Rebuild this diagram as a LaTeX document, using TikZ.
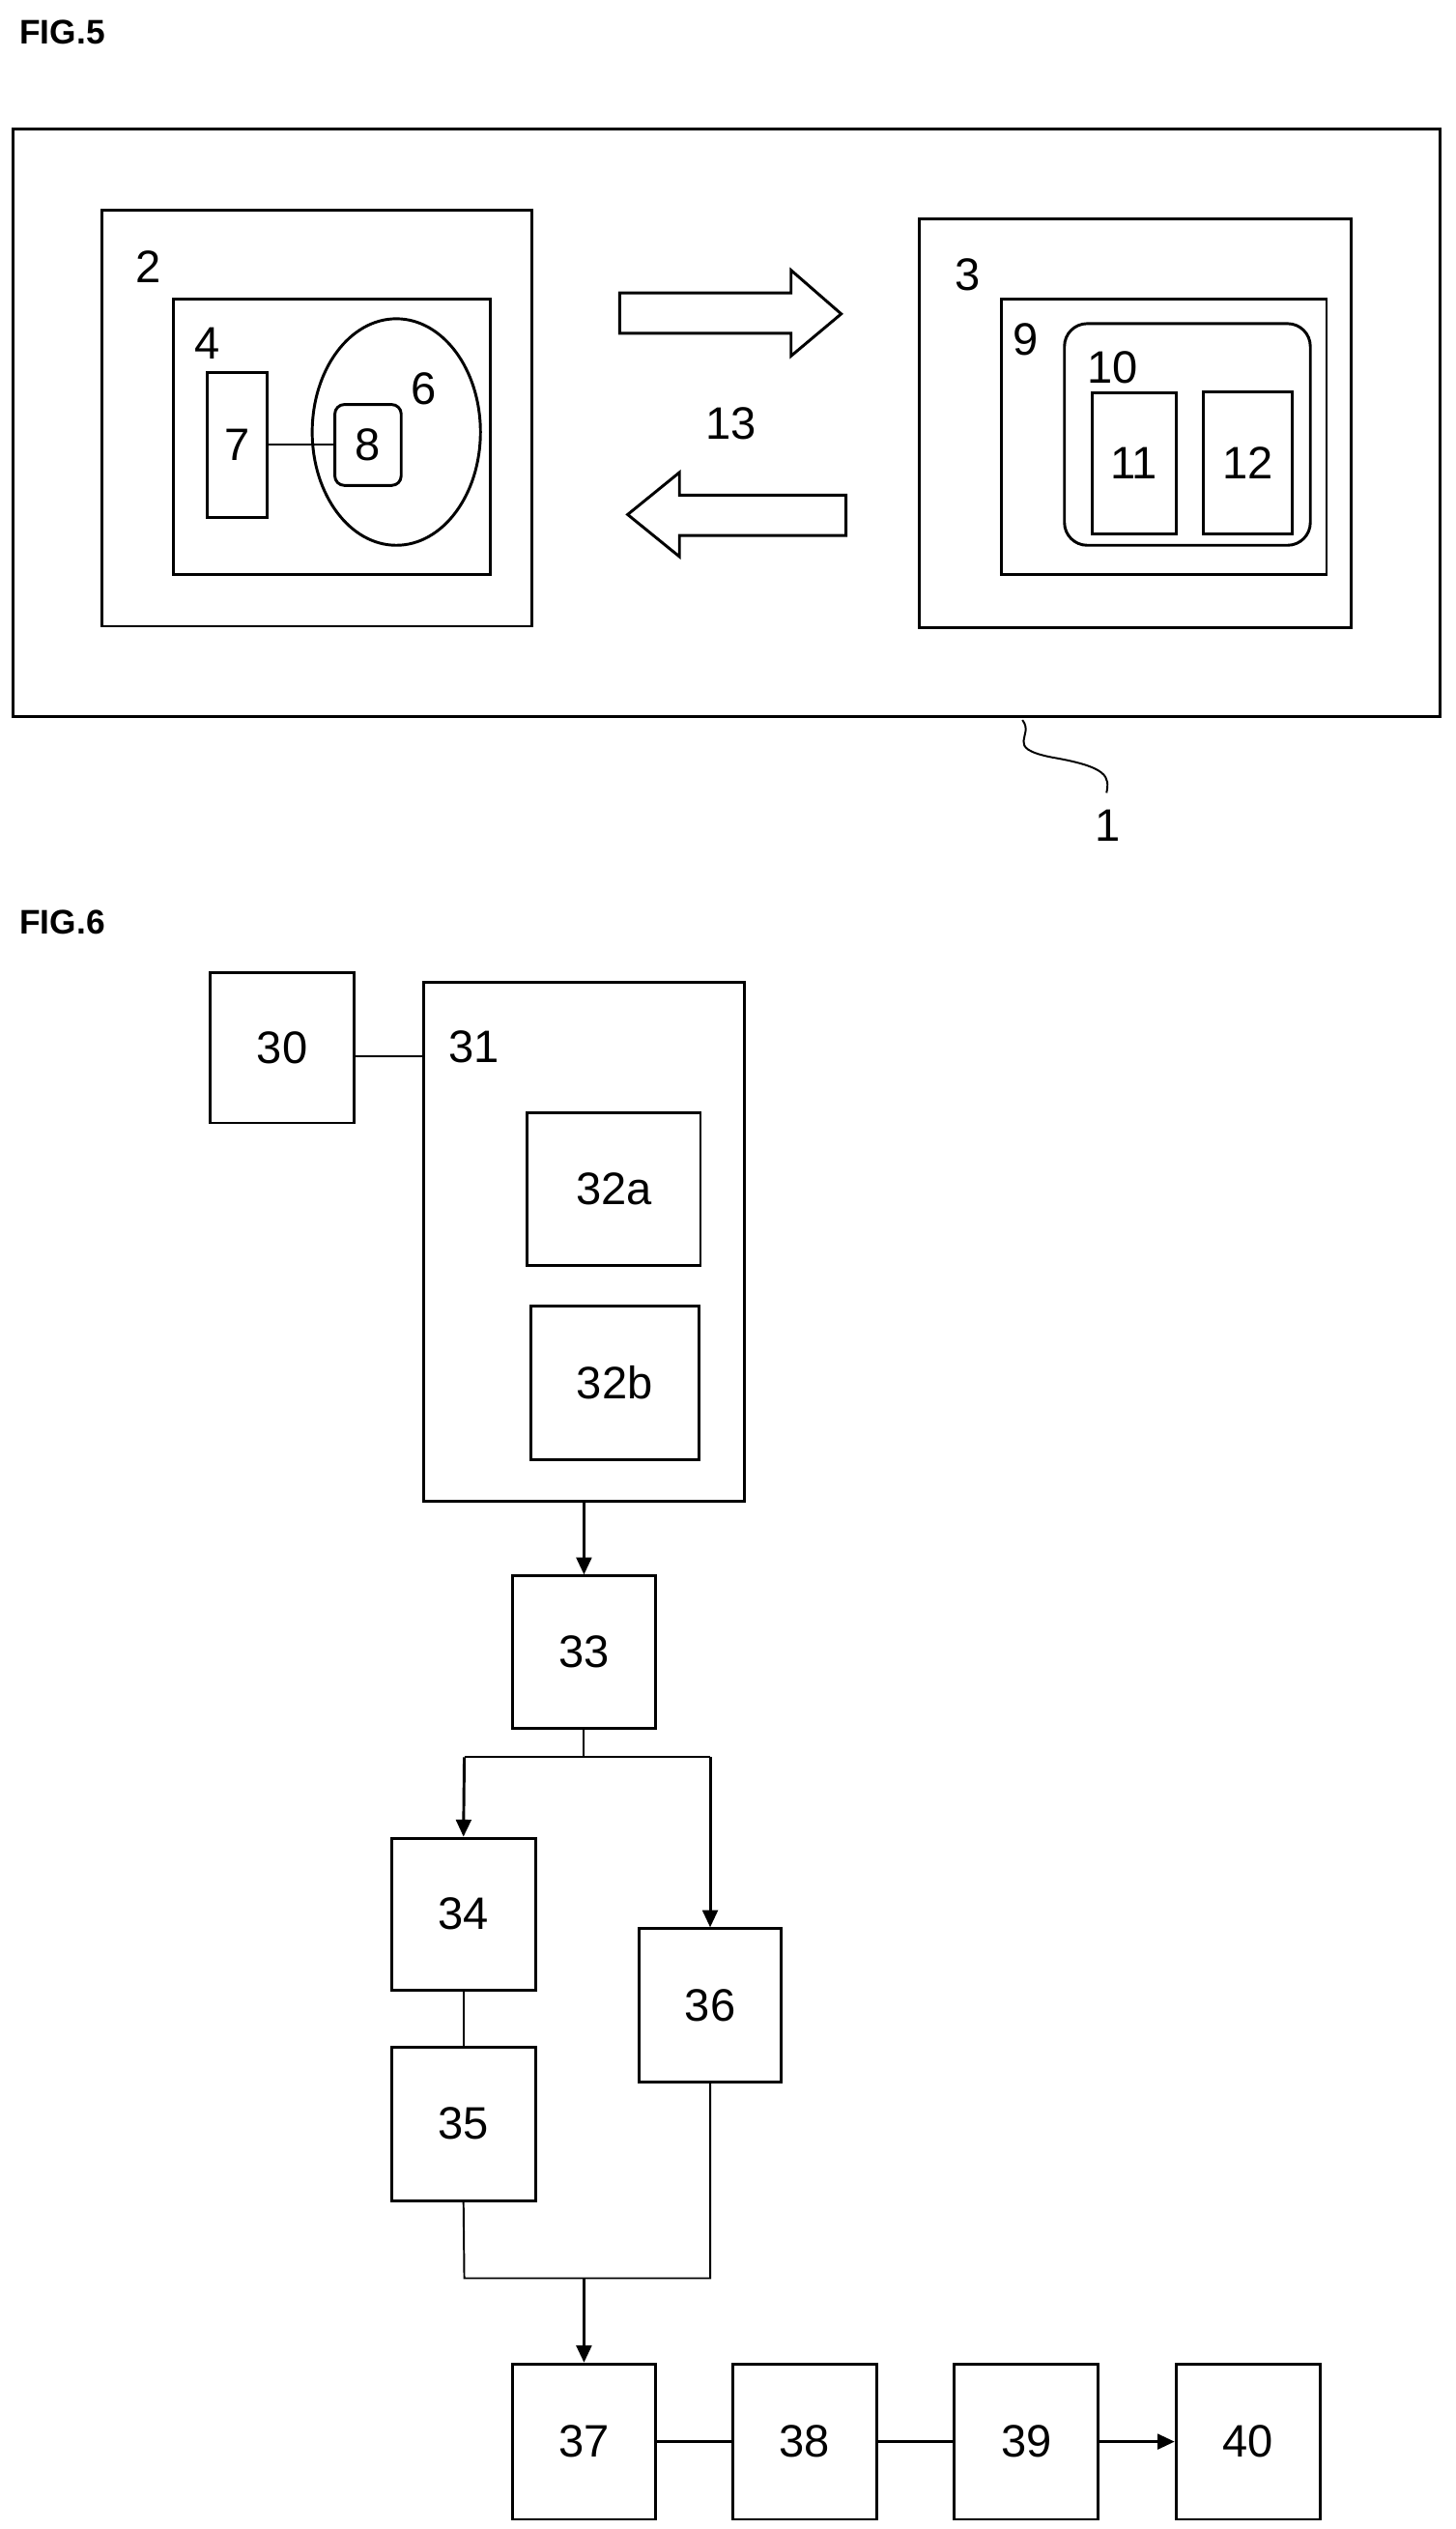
\documentclass[tikz,border=0pt]{standalone}
\usepackage{fontspec}
\setmainfont{Liberation Sans}
\usetikzlibrary{fit,arrows.meta}
\begin{document}
\begin{tikzpicture}[x=0.03cm,y=-0.03cm,
  bx/.style={draw,line width=1.5pt,inner sep=0pt},
  lab/.style={font=\fontsize{24}{28}\selectfont},
  fig/.style={font=\bfseries\fontsize{18}{22}\selectfont,anchor=west},
  con/.style={line width=1pt},
  arr/.style={line width=1.5pt,-{Triangle[length=9pt,width=8pt]}}]
\useasboundingbox (0,0) rectangle (900,1563);
\node[fig] (f5) at (8,20) {FIG.5};
\node[bx,fit={(8,80)(890,443)}] (b1) {};
\node[bx,fit={(63,130)(329,387)}] (b2) {};
\node[lab] (l2) at (92,165) {2};
\node[bx,fit={(107,185)(303,355)}] (b4) {};
\node[lab] (l4) at (128,212) {4};
\node[bx,fit={(128,230)(165,320)},label={[lab]center:7}] (b7) {};
\draw[line width=1.5pt] (245,267) ellipse (52 and 70);
\node[lab] (l6) at (262,240) {6};
\node[bx,rounded corners=5pt,fit={(207,250)(248,300)},label={[lab]center:8}] (b8) {};
\draw[con] (b7.east) -- (b8.west);
\node[bx,fit={(568,135)(835,388)}] (b3) {};
\node[lab] (l3) at (598,170) {3};
\node[bx,fit={(619,185)(820,355)}] (b9) {};
\node[lab] (l9) at (634,210) {9};
\node[bx,rounded corners=12pt,fit={(658,200)(810,337)}] (b10) {};
\node[lab] (l10) at (688,227) {10};
\node[bx,fit={(675,243)(727,330)},label={[lab]center:11}] (b11) {};
\node[bx,fit={(744,242)(799,330)},label={[lab]center:12}] (b12) {};
\draw[line width=1.5pt,line join=miter] (383,181)--(489,181)--(489,167)--(520,194)--(489,220)--(489,206)--(383,206)--cycle;
\draw[line width=1.5pt,line join=miter] (523,306)--(420,306)--(420,292)--(388,318)--(420,344)--(420,331)--(523,331)--cycle;
\node[lab] (l13) at (452,262) {13};
\node[lab] (l1) at (685,510) {1};
\coordinate (s1) at (632,445);
\draw[con] (s1) .. controls (640,455) and (620,462) .. (650,468) .. controls (685,474) and (686,480) .. (684,490);
\node[fig] (f6) at (8,570) {FIG.6};
\node[bx,fit={(130,601)(219,694)},label={[lab]center:30}] (b30) {};
\node[bx,fit={(262,607)(460,928)}] (b31) {};
\node[lab] (l31) at (293,647) {31};
\draw[con] (219,653) -- (262,653);
\node[bx,fit={(326,688)(433,782)},label={[lab]center:32a}] (b32a) {};
\node[bx,fit={(328,807)(432,902)},label={[lab]center:32b}] (b32b) {};
\node[bx,fit={(317,974)(405,1068)},label={[lab]center:33}] (b33) {};
\draw[arr] (b31.south -| b33) -- (b33.north);
\node[bx,fit={(242,1136)(331,1230)},label={[lab]center:34}] (b34) {};
\node[bx,fit={(242,1265)(331,1360)},label={[lab]center:35}] (b35) {};
\node[bx,fit={(395,1192)(483,1287)},label={[lab]center:36}] (b36) {};
\coordinate (j1) at (361,1086);
\draw[con] (b33.south) -- (j1);
\draw[con] (287,1086) -- (439,1086);
\draw[arr] (287,1086) -- (b34.north);
\draw[arr] (439,1086) -- (b36.north -| 439,0);
\draw[con] (b34.south) -- (b35.north);
\coordinate (j2) at (361,1408);
\draw[con] (b35.south) -- (287,1408) -- (439,1408) -- (439,1287);
\node[bx,fit={(317,1461)(405,1557)},label={[lab]center:37}] (b37) {};
\node[bx,fit={(453,1461)(542,1557)},label={[lab]center:38}] (b38) {};
\node[bx,fit={(590,1461)(679,1557)},label={[lab]center:39}] (b39) {};
\node[bx,fit={(727,1461)(816,1557)},label={[lab]center:40}] (b40) {};
\draw[arr] (j2) -- (b37.north);
\draw[line width=1.5pt] (b37.east) -- (b38.west);
\draw[line width=1.5pt] (b38.east) -- (b39.west);
\draw[arr] (b39.east) -- (b40.west);
\end{tikzpicture}
\end{document}
